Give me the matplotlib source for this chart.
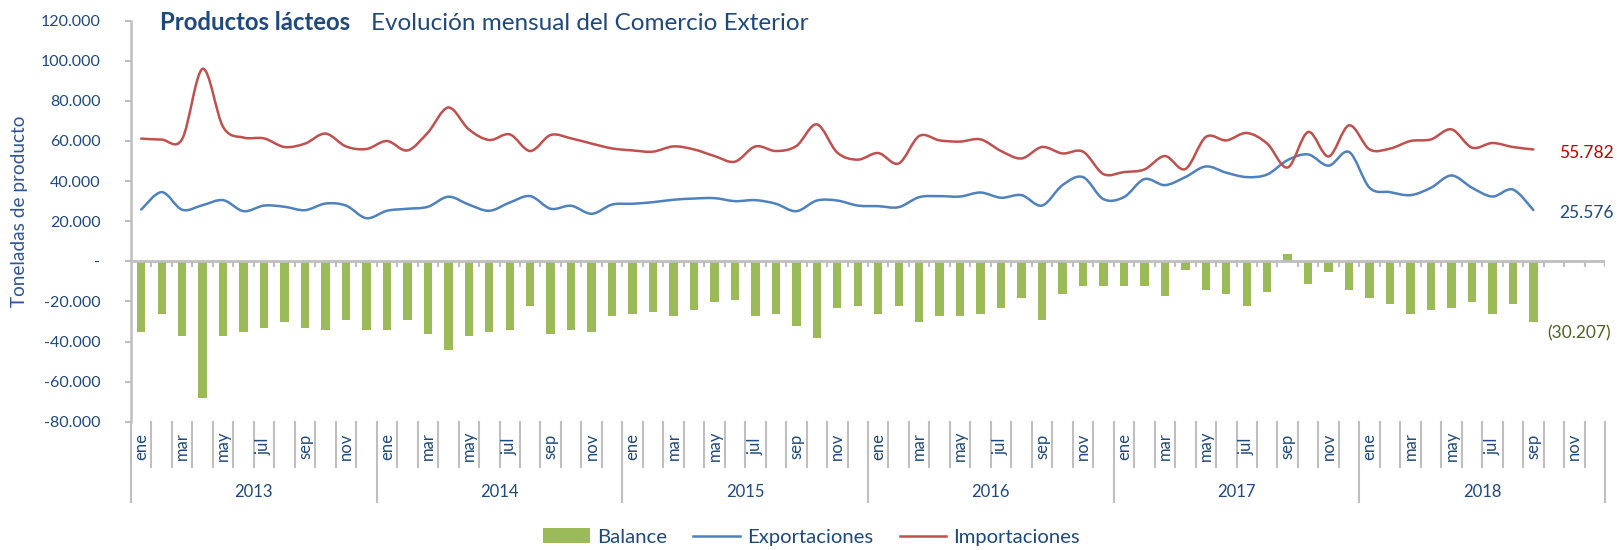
import numpy as np
import matplotlib
matplotlib.use("Agg")
import matplotlib.pyplot as plt
from matplotlib.path import Path
from matplotlib.patches import PathPatch, Patch
from matplotlib.lines import Line2D
from matplotlib.transforms import blended_transform_factory
from matplotlib.ticker import FuncFormatter

plt.rcParams['font.family'] = ['Lato', 'DejaVu Sans']

# monthly data, ene 2013 - sep 2018 (toneladas)
years = [2013, 2014, 2015, 2016, 2017, 2018]
month_names = ['ene', 'feb', 'mar', 'abr', 'may', 'jun',
               'jul', 'ago', 'sep', 'oct', 'nov', 'dic']

exportaciones = [
    25800, 34500, 25700, 28000, 30500, 25000, 27800, 27200, 25500, 28800, 27800, 21500,
    25200, 26200, 27200, 32200, 28300, 25200, 29300, 32500, 26200, 27700, 23700, 28300,
    28700, 29500, 30700, 31300, 31500, 30000, 30500, 28700, 25000, 30300, 30300, 27800,
    27500, 27000, 32000, 32500, 32300, 34300, 31700, 33000, 27800, 38000, 42000, 31000,
    32000, 41000, 38000, 42000, 47300, 44200, 42000, 43300, 50500, 53300, 47700, 54500,
    36700, 34500, 33000, 36700, 42800, 36700, 32300, 35800, 25576,
]
importaciones = [
    61200, 60700, 61000, 96000, 67000, 61700, 61300, 57000, 58700, 63700, 57300, 56000,
    60000, 55300, 64200, 76700, 65800, 60500, 63300, 55000, 63000, 61300, 58700, 56300,
    55300, 54700, 57300, 55800, 52500, 49700, 57300, 55000, 57500, 68300, 54200, 50700,
    54000, 48800, 62500, 60300, 59700, 60800, 55000, 51300, 57000, 53800, 54700, 43500,
    44500, 45800, 52500, 46000, 62000, 60300, 64000, 58700, 46800, 64500, 52300, 67800,
    55800, 56200, 60000, 60800, 65800, 56700, 59000, 57000, 55782,
]
balance = [
    -35300, -26300, -37300, -68200, -37300, -35300, -33300, -30300, -33300, -34300, -29300, -34300,
    -34300, -29300, -36300, -44300, -37300, -35300, -34300, -22300, -36300, -34300, -35300, -27300,
    -26300, -25300, -27300, -24300, -20300, -19300, -27300, -26300, -32300, -38300, -23300, -22300,
    -26300, -22300, -30300, -27300, -27300, -26300, -23300, -18300, -29300, -16300, -12300, -12300,
    -12300, -12300, -17300, -4300, -14300, -16300, -22300, -15300, 3700, -11300, -5300, -14300,
    -18300, -21300, -26300, -24300, -23300, -20300, -26300, -21300, -30207,
]

NAVY = '#1F497D'
GRAY = '#BFBFBF'
GREEN = '#9BBB59'
BLUE = '#4F81BD'
RED = '#C0504D'


def smooth_path(xs, ys):
    # Excel-style smoothed line: cubic bezier through every point
    xs = np.asarray(xs, float)
    ys = np.asarray(ys, float)
    pts = np.column_stack([xs, ys])
    n = len(pts)
    verts = [pts[0]]
    codes = [Path.MOVETO]
    for i in range(n - 1):
        p0 = pts[max(i - 1, 0)]
        p1 = pts[i]
        p2 = pts[i + 1]
        p3 = pts[min(i + 2, n - 1)]
        c1 = p1 + (p2 - p0) / 6.0
        c2 = p2 - (p3 - p1) / 6.0
        verts += [c1, c2, p2]
        codes += [Path.CURVE4] * 3
    return Path(verts, codes)


fig = plt.figure(figsize=(16.17, 5.5), dpi=100)
W, H = 1617, 550
ax = fig.add_axes([131 / W, 1 - 421.7 / H, (1605 - 131) / W, (421.7 - 20.7) / H])

n_cat = 12 * len(years)
x = np.arange(len(balance))

ax.bar(x, balance, width=0.41, color=GREEN, zorder=2)
ax.add_patch(PathPatch(smooth_path(x, exportaciones), fill=False,
                       edgecolor=BLUE, lw=1.8, zorder=4, capstyle='round'))
ax.add_patch(PathPatch(smooth_path(x, importaciones), fill=False,
                       edgecolor=RED, lw=1.8, zorder=4, capstyle='round'))

ax.set_xlim(-0.5, n_cat - 0.5)
ax.set_ylim(-80000, 120000)
ax.set_yticks(np.arange(-80000, 120001, 20000))
ax.yaxis.set_major_formatter(FuncFormatter(
    lambda v, p: '-' if v == 0 else f"{v:,.0f}".replace(',', '.')))
ax.tick_params(axis='y', length=4, width=1.5, color=GRAY,
               labelcolor=NAVY, labelsize=11.5, pad=18)
ax.set_xticks([])
for s in ['top', 'right', 'bottom']:
    ax.spines[s].set_visible(False)
ax.spines['left'].set_color(GRAY)
ax.spines['left'].set_linewidth(1.8)

# category axis at zero with ticks between months
ax.axhline(0, color=GRAY, lw=2, zorder=3)
ax.vlines(np.arange(-0.5, n_cat), -2750, 0, color=GRAY, lw=1.5, zorder=3)

# two-level category labels below the plot
trans = blended_transform_factory(ax.transData, ax.transAxes)
for b in np.arange(-0.5, n_cat, 1):
    bottom = -0.2 if (b + 0.5) % 12 == 0 else -0.112
    ax.plot([b, b], [0, bottom], transform=trans, clip_on=False,
            color=GRAY, lw=1.5)
for i in range(0, n_cat, 2):
    ax.text(i, -0.061, month_names[i % 12], transform=trans, rotation=90,
            ha='center', va='center', fontsize=12, color=NAVY)
for k, yr in enumerate(years):
    ax.text(12 * k + 5.5, -0.175, str(yr), transform=trans,
            ha='center', va='center', fontsize=12, color=NAVY)

# last values
ax.text(69.25, 54200, f"{importaciones[-1]:,}".replace(',', '.'),
        ha='left', va='center', fontsize=12.5, color='#C00000')
ax.text(69.25, 24200, f"{exportaciones[-1]:,}".replace(',', '.'),
        ha='left', va='center', fontsize=12.5, color=NAVY)
ax.text(68.7, -35800, "(" + f"{-balance[-1]:,}".replace(',', '.') + ")",
        ha='left', va='center', fontsize=12.5, color='#4F6228')

# titles
fig.text(160 / W, 1 - 30 / H, 'Productos lácteos', fontsize=17.2,
         fontweight='bold', color=NAVY, va='baseline', ha='left')
fig.text(371 / W, 1 - 30 / H, 'Evolución mensual del Comercio Exterior',
         fontsize=17.5, color=NAVY, va='baseline', ha='left')
fig.text(19 / W, 1 - 211 / H, 'Toneladas de producto', rotation=90,
         fontsize=13.7, color='#2F5597', va='center', ha='center')

handles = [Patch(facecolor=GREEN, edgecolor='none'),
           Line2D([], [], color=BLUE, lw=1.8),
           Line2D([], [], color=RED, lw=1.8)]
leg = fig.legend(handles, ['Balance', 'Exportaciones', 'Importaciones'],
                 loc='center', bbox_to_anchor=(0.502, 1 - 537 / H), ncol=3,
                 frameon=False, fontsize=14.6, handlelength=2.3,
                 handletextpad=0.35, columnspacing=1.3)
for t in leg.get_texts():
    t.set_color(NAVY)

fig.savefig('out.png', dpi=100)
